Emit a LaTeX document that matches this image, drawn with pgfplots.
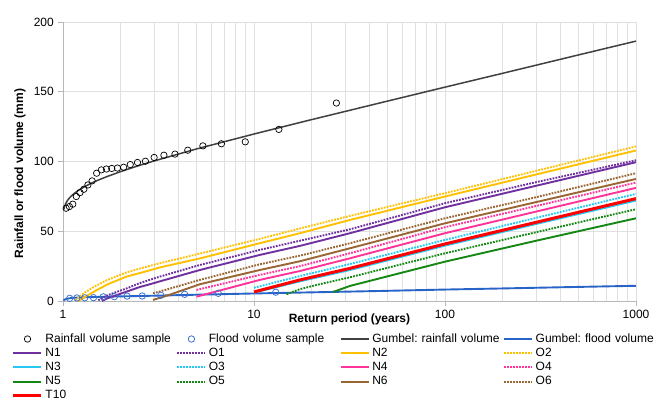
\documentclass[border=0pt]{standalone}
\usepackage{fontspec}
\setmainfont{Liberation Sans}
\usepackage{pgfplots}
\pgfplotsset{compat=1.18}

\definecolor{cRain}{RGB}{64,64,64}
\definecolor{cFlood}{RGB}{40,100,200}
\definecolor{cFloodPt}{RGB}{60,115,210}
\definecolor{cPurple}{RGB}{112,48,160}
\definecolor{cGold}{RGB}{255,192,0}
\definecolor{cCyan}{RGB}{40,200,245}
\definecolor{cPink}{RGB}{255,51,153}
\definecolor{cGreen}{RGB}{20,135,20}
\definecolor{cBrown}{RGB}{153,102,51}
\definecolor{cRed}{RGB}{255,0,0}

\begin{document}
\frenchspacing
\fontsize{12}{14}\selectfont
\begin{tikzpicture}
\begin{axis}[
  name=ax,
  scale only axis, width=573pt, height=279pt,
  xmode=log, xmin=1, xmax=1000, ymin=0, ymax=200,
  xtick={1,10,100,1000}, ytick={0,50,100,150,200},
  log ticks with fixed point,
  /pgf/number format/1000 sep={},
  /pgf/number format/assume math mode=true,
  axis lines*=left,
  axis line style={draw=black!28, line width=0.8pt},
  grid=both,
  major grid style={draw=black!12, line width=0.8pt},
  minor grid style={draw=black!12, line width=0.8pt},
  minor y tick num=0,
  tick align=outside, major tick length=5pt, minor tick length=0pt,
  tick style={draw=black!28, line width=0.8pt},
  ticklabel style={font=\fontsize{12}{14}\selectfont},
  xlabel={\bfseries Return period (years)},
  xlabel style={at={(axis description cs:0.5,0)}, anchor=north, yshift=-9pt},
  ylabel={\bfseries Rainfall or flood volume (mm)},
  ylabel style={at={(axis description cs:-0.075,0.457)}, anchor=center},
  legend columns=4,
  legend cell align=left,
  legend image code/.code={\draw[mark repeat=2,mark phase=2,#1] plot coordinates {(0pt,0pt) (14pt,0pt) (28pt,0pt)};},
  legend style={at={(axis description cs:0,0)}, anchor=north west,
    xshift=-51pt, yshift=-31pt, draw=none, fill=none, inner sep=0pt, outer sep=0pt,
    font=\fontsize{12}{14}\selectfont, row sep=0.2pt,
    nodes={inner sep=1pt, text width=128pt, align=left, text height=9pt, text depth=3pt},
    /tikz/every odd column/.append style={column sep=1.5pt},
    /tikz/every even column/.append style={column sep=2pt}},
  dotted style/.style={dash pattern=on 1.8pt off 1.2pt},
]
% samples
\addplot[only marks, mark=o, mark size=3.2pt, mark options={draw=black, line width=0.7pt}] coordinates {
 (27,141.9) (13.5,123.0) (9,114.1) (6.75,112.7) (5.4,111.2) (4.5,108.1) (3.857,105.3)
 (3.375,104.5) (3,102.9) (2.7,100.2) (2.4545,99.3) (2.25,97.8) (2.0769,95.9) (1.9286,95.3)
 (1.8,95.0) (1.6875,94.6) (1.5882,94.0) (1.5,91.6) (1.4211,86.1) (1.35,83.2) (1.2857,80.1)
 (1.2273,77.7) (1.1739,74.9) (1.125,69.4) (1.08,67.7) (1.0385,66.5)};
\addlegendentry{Rainfall volume sample}
\addplot[only marks, mark=o, mark size=3.2pt, mark options={draw=cFloodPt, line width=0.8pt}] coordinates {
 (13,6.3) (6.5,5.5) (4.3333,4.8) (3.25,4.1) (2.6,3.6) (2.1667,3.5) (1.8571,3.1)
 (1.625,3.0) (1.4444,2.4) (1.3,2.3) (1.1818,2.2) (1.0833,1.9)};
\addlegendentry{Flood volume sample}
% Gumbel fits
\addplot[cRain, line width=1.5pt] coordinates {
 (1.01,65.6) (1.02,67.9) (1.03,69.4) (1.05,71.6) (1.07,73.2) (1.1,75.0) (1.15,77.3) (1.2,79.2)
 (1.3,82.0) (1.4,84.3) (1.5,86.2) (1.7,89.2) (2,92.7) (2.5,97.1) (3,100.4) (5,109.0) (7,114.2)
 (10,119.7) (20,130.0) (50,143.3) (100,153.3) (200,163.2) (500,176.4) (1000,186.3)};
\addlegendentry{Gumbel: rainfall volume}
\addplot[cFlood, line width=1.9pt] coordinates {
 (1.005,0.3) (1.02,1.0) (1.05,1.6) (1.1,2.1) (1.2,2.5) (1.5,2.9) (2,3.3) (3,3.8) (5,4.5)
 (10,5.4) (20,6.2) (50,7.3) (100,8.2) (200,9.0) (500,10.1) (1000,10.9)};
\addlegendentry{Gumbel: flood volume}
% design curves
\addplot[cPurple, line width=1.9pt] coordinates {
 (1.6,0) (1.7,1.8) (2.15,6.7) (2.52,10.0) (2.85,12.0) (3.2,14.0) (5.2,22.2) (10.7,33.0)
 (17.4,39.5) (31.8,48.6) (100,67.2) (300,82.6) (1000,99.5)};
\addlegendentry{N1}
\addplot[cPurple, line width=1.9pt, dotted style] coordinates {
 (1.53,0.5) (1.7,4.0) (2.15,9.0) (2.52,12.8) (2.85,15.2) (3.2,17.4) (5.2,25.8) (10.7,36.6)
 (17.4,43.2) (31.8,51.4) (100,70.1) (300,85.2) (1000,100.9)};
\addlegendentry{O1}
\addplot[cGold, line width=1.9pt] coordinates {
 (1.2,0) (1.3,2.8) (1.436,6.3) (1.7,11.8) (2.15,17.5) (2.52,20.0) (2.85,22.0) (3.2,24.0)
 (5.2,30.5) (10.7,41.4) (17.4,48.6) (31.8,58.1) (100,74.9) (300,90.7) (1000,107.9)};
\addlegendentry{N2}
\addplot[cGold, line width=1.9pt, dotted style] coordinates {
 (1.16,0.5) (1.25,4.5) (1.436,9.8) (1.7,15.0) (2.15,20.5) (2.52,23.2) (2.85,25.2) (3.2,27.0)
 (5.2,34.0) (10.7,44.5) (17.4,52.0) (31.8,61.0) (100,77.3) (300,93.3) (1000,110.8)};
\addlegendentry{O2}
\addplot[cCyan, line width=1.9pt] coordinates {
 (10,6.0) (17.4,14.1) (31.8,22.2) (100,39.7) (300,55.2) (1000,72.0)};
\addlegendentry{N3}
\addplot[cCyan, line width=1.9pt, dotted style] coordinates {
 (10,9.5) (17.4,17.9) (31.8,26.5) (100,43.8) (300,59.6) (1000,76.8)};
\addlegendentry{O3}
\addplot[cPink, line width=1.9pt] coordinates {
 (5,3.1) (10.7,15.1) (17.4,21.5) (31.8,30.6) (100,48.6) (300,64.1) (1000,81.1)};
\addlegendentry{N4}
\addplot[cPink, line width=1.9pt, dotted style] coordinates {
 (5,7.9) (10.7,18.7) (17.4,25.0) (31.8,34.2) (100,52.9) (300,68.1) (1000,84.9)};
\addlegendentry{O4}
\addplot[cGreen, line width=1.9pt] coordinates {
 (26,6.5) (31.8,10.8) (100,28.2) (300,43.2) (1000,59.3)};
\addlegendentry{N5}
\addplot[cGreen, line width=1.9pt, dotted style] coordinates {
 (14.8,4.8) (17.4,8.5) (22,12.0) (31.8,17.0) (100,34.2) (300,49.3) (1000,65.8)};
\addlegendentry{O5}
\addplot[cBrown, line width=1.9pt] coordinates {
 (2.96,0.8) (3.5,3.8) (5.2,12.0) (10.7,22.2) (17.4,28.5) (31.8,37.8) (100,55.7) (300,70.9) (1000,87.5)};
\addlegendentry{N6}
\addplot[cBrown, line width=1.9pt, dotted style] coordinates {
 (2.96,5.5) (3.5,8.3) (5.2,15.1) (10.7,26.3) (17.4,32.5) (31.8,41.4) (100,59.3) (300,74.4) (1000,91.6)};
\addlegendentry{O6}
\addplot[cRed, line width=3pt] coordinates {
 (10,6.5) (17.4,15.1) (31.8,23.4) (100,40.9) (300,56.4) (1000,73.4)};
\addlegendentry{T10}
\end{axis}
\pgfresetboundingbox
\useasboundingbox (ax.south west) ++(-63pt,-100pt) rectangle ++(658pt,401pt);
\end{tikzpicture}
\end{document}
